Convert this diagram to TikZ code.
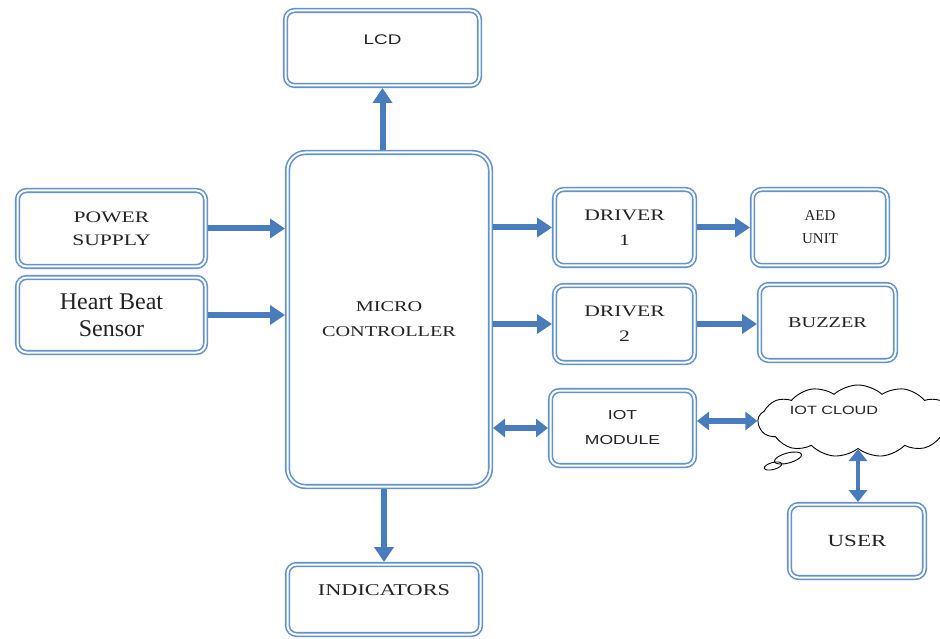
\documentclass[tikz,border=0pt]{standalone}
\usepackage{fontspec}
\setmainfont{Liberation Serif}
\newfontfamily\wideserif[FakeStretch=1.35]{Liberation Serif}
\newfontfamily\widesans[FakeStretch=1.35]{Liberation Sans}
\usepackage{tikz}
\usetikzlibrary{shapes,arrows.meta,positioning,calc}
\definecolor{boxblue}{RGB}{100,146,204}
\definecolor{arrowblue}{RGB}{72,124,188}
\definecolor{txtgray}{RGB}{35,35,35}
\tikzset{
  blk/.style={draw=boxblue,line width=1.6pt,double=white,double distance=2pt,
              rounded corners=9pt,align=center,text=txtgray,
              outer sep=2.5pt,inner sep=2pt},
  capsfont/.style={font=\wideserif\fontsize{#1}{25}\selectfont},
  arr/.style={-{Triangle[length=15pt,width=19pt]},line width=6pt,draw=arrowblue},
  darr/.style={{Triangle[length=12pt,width=18pt]}-{Triangle[length=12pt,width=18pt]},
               line width=6pt,draw=arrowblue},
}

\begin{document}
\begin{tikzpicture}[x=1pt,y=-1pt]
  \useasboundingbox (0,0) rectangle (940,639);
  % blocks
  \node[blk,minimum width=194pt,minimum height=75pt,text depth=16pt,
        font=\widesans\fontsize{14}{17}\selectfont] (lcd) at (382.5,48) {LCD};
  \node[blk,rounded corners=18pt,minimum width=203pt,minimum height=334pt,
        capsfont=15] (mc) at (389,319.5) {MICRO\\CONTROLLER};
  \node[blk,minimum width=188pt,minimum height=76pt,
        font=\wideserif\fontsize{16}{23}\selectfont] (ps) at (111.5,228.5) {POWER\\SUPPLY};
  \node[blk,minimum width=188pt,minimum height=75pt,
        font=\fontsize{24}{27}\selectfont] (hb) at (111.5,315) {Heart Beat\\Sensor};
  \node[blk,minimum width=140pt,minimum height=76pt,capsfont=16] (drv1) at (624.5,227.5) {DRIVER\\1};
  \node[blk,minimum width=135pt,minimum height=76pt,
        font=\fontsize{15}{23}\selectfont] (aed) at (820,227.5) {AED\\UNIT};
  \node[blk,minimum width=140pt,minimum height=77pt,capsfont=16] (drv2) at (624.5,324) {DRIVER\\2};
  \node[blk,minimum width=136pt,minimum height=76pt,capsfont=15] (bz) at (827.5,322.5) {BUZZER};
  \node[blk,minimum width=144pt,minimum height=75pt,
        font=\widesans\fontsize{13}{25}\selectfont] (iot) at (622.5,428) {IOT\\MODULE};
  \node[blk,minimum width=135pt,minimum height=73pt,capsfont=17] (usr) at (857,541) {USER};
  \node[blk,minimum width=193pt,minimum height=70pt,text depth=18pt,
        capsfont=16.5] (ind) at (384,599.5) {INDICATORS};
  % cloud
  \node[draw=black,line width=0.9pt,cloud,cloud puffs=13,cloud puff arc=85,aspect=3,
        minimum width=200pt,minimum height=72pt,inner sep=0pt,
        label={[font=\widesans\fontsize{12}{14}\selectfont,text=txtgray,
                xshift=-24pt,yshift=11pt]center:IOT CLOUD}] (cloud) at (858,421) {};
  \draw[line width=0.9pt] (788,458) ellipse [x radius=14pt,y radius=5pt,rotate=15];
  \draw[line width=0.9pt] (773,466) ellipse [x radius=9pt,y radius=3.5pt,rotate=15];
  % connections
  \draw[arr] (mc.north -| lcd.south) -- (lcd.south);
  \draw[arr] (ps.east) -- (ps.east -| mc.west);
  \draw[arr] (hb.east) -- (hb.east -| mc.west);
  \draw[arr] (mc.east |- drv1.west) -- (drv1.west);
  \draw[arr] (drv1.east) -- (aed.west);
  \draw[arr] (mc.east |- drv2.west) -- (drv2.west);
  \draw[arr] (drv2.east) -- (drv2.east -| bz.west);
  \draw[darr] (mc.east |- iot.west) -- (iot.west);
  \draw[darr] (iot.east |- cloud.west) -- (cloud.west);
  \draw[darr,line width=4pt] (cloud.south) -- (cloud.south |- usr.north);
  \draw[arr] (mc.south -| ind.north) -- (ind.north);
\end{tikzpicture}
\end{document}
